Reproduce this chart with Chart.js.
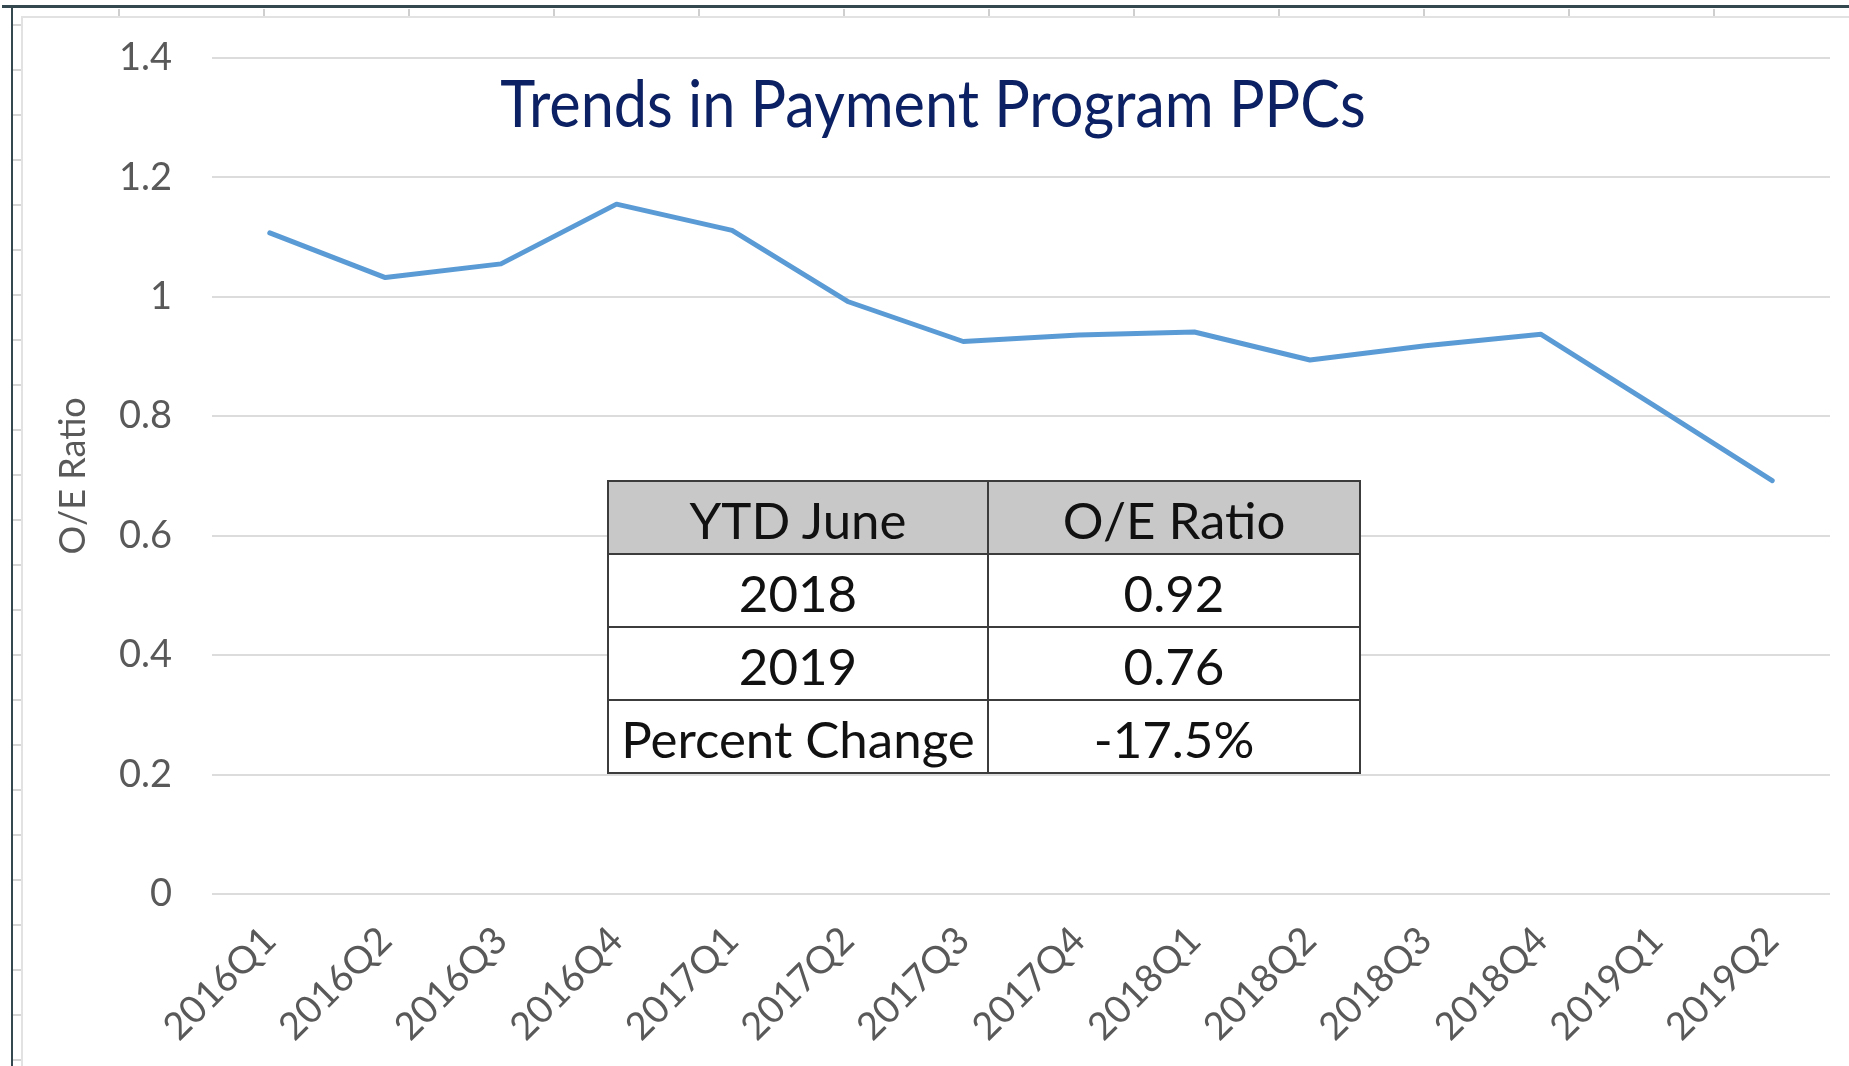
<!DOCTYPE html>
<html>
<head>
<meta charset="utf-8">
<script src="https://cdn.jsdelivr.net/npm/chart.js@4.4.1/dist/chart.umd.min.js"></script>
<style>
  html, body { margin: 0; padding: 0; background: #ffffff; }
  #wrap { position: relative; width: 1849px; height: 1066px; overflow: hidden; background: #fff; }
  #chart { position: absolute; left: 0; top: -5px; }
  .frameTop { position: absolute; left: 2px; top: 5px; width: 1847px; height: 3px; background: #34484f; }
  .frameLeft { position: absolute; left: 11px; top: 5px; width: 2px; height: 1061px; background: #34484f; }
  .innerTop { position: absolute; left: 22px; top: 16px; width: 1827px; height: 2px; background: #e2e2e2; }
  .innerLeft { position: absolute; left: 21px; top: 16px; width: 2px; height: 1050px; background: #e2e2e2; }
  .ticksTop { position: absolute; left: 0; top: 9px; width: 1849px; height: 8px;
    background: repeating-linear-gradient(to right, transparent 0 117px, #cfcfcf 117px 119px, transparent 119px 145px);
    background-position: 1px 0; }
  .ticksLeft { position: absolute; left: 13px; top: 0; width: 9px; height: 1066px;
    background: repeating-linear-gradient(to bottom, transparent 0 24px, #d6d6d6 24px 26px, transparent 26px 45px);
  }
  #title { position: absolute; left: 0; width: 1866px; top: 69px; text-align: center;
    font-family: Lato, "Noto Sans", sans-serif; font-size: 66px; line-height: 66px; color: #0c2163;
    transform: scaleX(0.9); transform-origin: 933px 0; white-space: nowrap; }
  #tbl { position: absolute; left: 607px; top: 480px; border-collapse: collapse; background: #fff;
    font-family: Lato, "Noto Sans", sans-serif; font-size: 51px; color: #111; }
  #tbl td { border: 2.5px solid #3c3c3c; text-align: center; padding: 4px 0 0 0; height: 67px; line-height: 67px; white-space: nowrap; }
  #tbl tr.head td { background: #c8c8c8; }
  #tbl td.c1 { width: 378px; }
  #tbl td.c2 { width: 370px; }
</style>
</head>
<body>
<div id="wrap">
  <canvas id="chart" width="1849" height="1066"></canvas>
  <div class="ticksTop"></div>
  <div class="ticksLeft"></div>
  <div class="innerTop"></div>
  <div class="innerLeft"></div>
  <div class="frameTop"></div>
  <div class="frameLeft"></div>
  <div id="title">Trends in Payment Program PPCs</div>
  <table id="tbl">
    <tr class="head"><td class="c1">YTD June</td><td class="c2">O/E Ratio</td></tr>
    <tr><td class="c1">2018</td><td class="c2">0.92</td></tr>
    <tr><td class="c1">2019</td><td class="c2">0.76</td></tr>
    <tr><td class="c1">Percent Change</td><td class="c2">-17.5%</td></tr>
  </table>
</div>
<script>
const categories = ['2016Q1','2016Q2','2016Q3','2016Q4','2017Q1','2017Q2','2017Q3','2017Q4','2018Q1','2018Q2','2018Q3','2018Q4','2019Q1','2019Q2'];
const oeRatio = [1.107, 1.032, 1.055, 1.155, 1.111, 0.992, 0.925, 0.936, 0.941, 0.894, 0.918, 0.937, 0.815, 0.692];
const yTickValues = [0, 0.2, 0.4, 0.6, 0.8, 1, 1.2, 1.4];
const yTickLabels = ['0', '0.2', '0.4', '0.6', '0.8', '1', '1.2', '1.4'];
const yAxisTitle = 'O/E Ratio';

const tickFont = { family: 'Lato, "Noto Sans", sans-serif', size: 38 };
const titleFont = { family: 'Lato, "Noto Sans", sans-serif', size: 36 };

new Chart(document.getElementById('chart'), {
  type: 'line',
  data: {
    labels: categories,
    datasets: [{
      label: 'O/E Ratio',
      data: oeRatio,
      borderColor: '#5b9bd5',
      borderWidth: 5,
      pointRadius: 0,
      tension: 0,
      borderJoinStyle: 'round',
      borderCapStyle: 'round',
      fill: false
    }]
  },
  options: {
    responsive: false,
    devicePixelRatio: 1,
    animation: false,
    layout: { padding: { top: 48, right: 19, left: 0, bottom: 0 } },
    plugins: { legend: { display: false }, tooltip: { enabled: false }, title: { display: false } },
    scales: {
      x: {
        offset: true,
        grid: { display: false, drawTicks: false },
        border: { display: false },
        ticks: {
          color: '#595959', font: tickFont, autoSkip: false,
          maxRotation: 45, minRotation: 45, padding: 24
        },
        afterFit: (s) => { s.height = 167; }
      },
      y: {
        min: 0, max: 1.4,
        afterBuildTicks: (s) => { s.ticks = yTickValues.map(v => ({ value: v })); },
        grid: { color: '#dcdcdc', lineWidth: 2, drawTicks: false },
        border: { display: false },
        ticks: {
          color: '#595959', font: tickFont, padding: 40,
          callback: (v) => { const i = yTickValues.indexOf(v); return i >= 0 ? yTickLabels[i] : ''; }
        },
        title: {
          display: true, text: yAxisTitle, color: '#595959', font: titleFont,
          padding: { top: 52, bottom: 0 }
        },
        afterFit: (s) => { s.width = 212; }
      }
    }
  }
});
</script>
</body>
</html>
